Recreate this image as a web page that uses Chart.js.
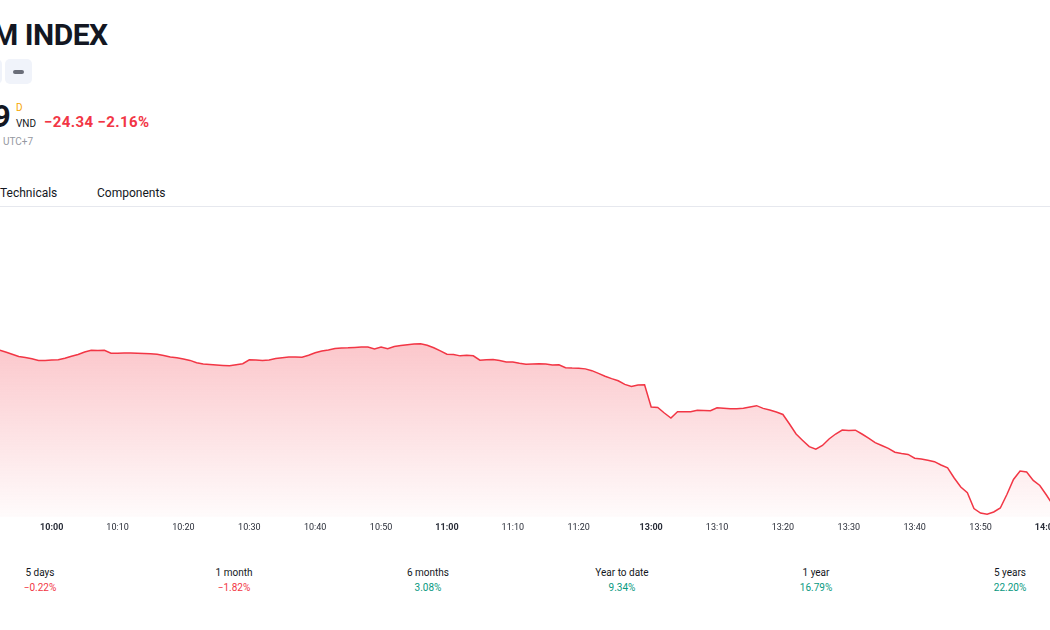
<!DOCTYPE html>
<html>
<head>
<meta charset="utf-8">
<script src="https://cdn.jsdelivr.net/npm/chart.js@4.4.1/dist/chart.umd.min.js"></script>
<style>
    html, body { margin: 0; padding: 0; width: 1050px; height: 630px; overflow: hidden; background: #fff; }
    body { position: relative; font-family: Roboto, "Noto Sans", sans-serif; color: #131722; }
    .abs { position: absolute; white-space: nowrap; }
    .title { left: -8px; top: 17px; font-size: 30px; font-weight: 700; letter-spacing: -0.5px; }
    .btn { top: 59px; width: 27px; height: 25px; border-radius: 5px; background: #f0f3fa; }
    .btn .dash { position: absolute; left: 8px; top: 11px; width: 11px; height: 4px; border-radius: 2px; background: #6a6d78; }
    .price { left: -7px; top: 98px; font-size: 31px; font-weight: 700; }
    .cur-d { left: 16px; top: 102px; font-size: 10px; color: #f7a600; }
    .cur { left: 16px; top: 118px; font-size: 10px; }
    .chg { left: 44px; top: 113px; font-size: 15px; font-weight: 700; color: #f23645; letter-spacing: 0.4px; }
    .tz { left: 3px; top: 136px; font-size: 10px; color: #9598a1; }
    .tab { top: 186px; font-size: 12px; color: #131722; }
    .rule { left: 0; top: 206px; width: 1050px; height: 1px; background: #e6e8ee; }
    #chartBox { position: absolute; left: -1px; top: 210px; width: 1054px; height: 322px; }
    .stat { top: 565px; width: 120px; margin-left: -60px; text-align: center; font-size: 10px; line-height: 15px; }
    .down { color: #f23645; }
    .up { color: #089981; }
</style>
</head>
<body>
<div class="abs title">M INDEX</div>
<div class="abs btn" style="left:-25px"></div>
<div class="abs btn" style="left:5px"><div class="dash"></div></div>
<div class="abs price">9</div>
<div class="abs cur-d">D</div>
<div class="abs cur">VND</div>
<div class="abs chg">−24.34 −2.16%</div>
<div class="abs tz">UTC+7</div>
<div class="abs tab" style="left:0">Technicals</div>
<div class="abs tab" style="left:97px">Components</div>
<div class="abs rule"></div>

<div id="chartBox"><canvas id="intradayChart"></canvas></div>

<div id="stats"></div>

<script>
// ==========================================
// DATA
// ==========================================
const times = [
    '09:52','09:53','09:54','09:55','09:56','09:57','09:58','09:59',
    '10:00','10:01','10:02','10:03','10:04','10:05','10:06','10:07','10:08','10:09',
    '10:10','10:11','10:12','10:13','10:14','10:15','10:16','10:17','10:18','10:19',
    '10:20','10:21','10:22','10:23','10:24','10:25','10:26','10:27','10:28','10:29',
    '10:30','10:31','10:32','10:33','10:34','10:35','10:36','10:37','10:38','10:39',
    '10:40','10:41','10:42','10:43','10:44','10:45','10:46','10:47','10:48','10:49',
    '10:50','10:51','10:52','10:53','10:54','10:55','10:56','10:57','10:58','10:59',
    '11:00','11:01','11:02','11:03','11:04','11:05','11:06','11:07','11:08','11:09',
    '11:10','11:11','11:12','11:13','11:14','11:15','11:16','11:17','11:18','11:19',
    '11:20','11:21','11:22','11:23','11:24','11:25','11:26','11:27','11:28','11:29',
    '11:30',
    '13:00','13:01','13:02','13:03','13:04','13:05','13:06','13:07','13:08','13:09',
    '13:10','13:11','13:12','13:13','13:14','13:15','13:16','13:17','13:18','13:19',
    '13:20','13:21','13:22','13:23','13:24','13:25','13:26','13:27','13:28','13:29',
    '13:30','13:31','13:32','13:33','13:34','13:35','13:36','13:37','13:38','13:39',
    '13:40','13:41','13:42','13:43','13:44','13:45','13:46','13:47','13:48','13:49',
    '13:50','13:51','13:52','13:53','13:54','13:55','13:56','13:57','13:58','13:59',
    '14:00','14:01'
];

const prices = [
    1124.75, 1124.45, 1124.12, 1123.79, 1123.61, 1123.43, 1123.19, 1123.19,
    1123.24, 1123.28, 1123.52, 1123.82, 1124.08, 1124.45, 1124.72, 1124.66, 1124.71, 1124.26,
    1124.27, 1124.29, 1124.30, 1124.26, 1124.21, 1124.17, 1124.12, 1123.94, 1123.69, 1123.57,
    1123.39, 1123.19, 1122.85, 1122.64, 1122.58, 1122.50, 1122.44, 1122.40, 1122.55, 1122.70,
    1123.28, 1123.24, 1123.18, 1123.24, 1123.48, 1123.58, 1123.69, 1123.69, 1123.66, 1123.96,
    1124.33, 1124.59, 1124.75, 1124.98, 1125.04, 1125.07, 1125.13, 1125.19, 1125.20, 1124.90,
    1125.20, 1124.95, 1125.28, 1125.41, 1125.52, 1125.64, 1125.67, 1125.46, 1125.08, 1124.62,
    1124.11, 1124.06, 1123.87, 1123.96, 1123.88, 1123.22, 1123.28, 1123.34, 1123.16, 1122.95,
    1122.95, 1122.76, 1122.61, 1122.64, 1122.68, 1122.64, 1122.50, 1122.53, 1122.10, 1122.04,
    1122.02, 1121.92, 1121.65, 1121.24, 1120.82, 1120.46, 1120.13, 1119.59, 1119.28, 1119.50,
    1119.55,
    1116.20, 1116.13, 1115.30, 1114.55, 1115.50, 1115.47, 1115.50, 1115.71, 1115.68, 1115.65,
    1116.08, 1116.01, 1115.95, 1115.92, 1116.02, 1116.20, 1116.40, 1115.99, 1115.75, 1115.44,
    1115.08, 1113.65, 1112.15, 1111.18, 1110.25, 1109.87, 1110.43, 1111.40, 1112.15, 1112.75,
    1112.68, 1112.72, 1112.15, 1111.52, 1110.86, 1110.43, 1109.99, 1109.42, 1109.23, 1109.08,
    1108.51, 1108.40, 1108.22, 1108.00, 1107.50, 1107.07, 1105.55, 1104.20, 1103.33, 1100.96,
    1100.30, 1100.11, 1100.45, 1101.05, 1103.08, 1105.33, 1106.60, 1106.45, 1105.18, 1104.43,
    1103.00, 1101.50
];

const perfLabels = ['5 days', '1 month', '6 months', 'Year to date', '1 year', '5 years'];
const perfValues = ['−0.22%', '−1.82%', '3.08%', '9.34%', '16.79%', '22.20%'];
const perfUp = [false, false, true, true, true, true];

// ==========================================
// PERFORMANCE ROW
// ==========================================
const stats = document.getElementById('stats');
perfLabels.forEach((lbl, i) => {
    const d = document.createElement('div');
    d.className = 'abs stat';
    d.style.left = (40 + i * 194) + 'px';
    d.innerHTML = lbl + '<br><span class="' + (perfUp[i] ? 'up' : 'down') + '">' + perfValues[i] + '</span>';
    stats.appendChild(d);
});

// ==========================================
// CHART
// ==========================================
const lineColor = '#f23645';
const canvas = document.getElementById('intradayChart');
const ctx = canvas.getContext('2d');

function areaFill(context) {
    const chart = context.chart;
    const area = chart.chartArea;
    if (!area) return 'rgba(242, 54, 69, 0.2)';
    const top = chart.scales.y.getPixelForValue(Math.max(...prices));
    const g = chart.ctx.createLinearGradient(0, top, 0, area.bottom);
    g.addColorStop(0, 'rgba(242, 54, 69, 0.28)');
    g.addColorStop(1, 'rgba(242, 54, 69, 0.02)');
    return g;
}

new Chart(ctx, {
    type: 'line',
    data: {
        labels: times,
        datasets: [{
            data: prices,
            borderColor: lineColor,
            borderWidth: 1.5,
            backgroundColor: areaFill,
            fill: 'start',
            pointRadius: 0,
            tension: 0
        }]
    },
    options: {
        responsive: true,
        maintainAspectRatio: false,
        animation: false,
        layout: { padding: 0 },
        plugins: {
            legend: { display: false },
            tooltip: { enabled: false }
        },
        scales: {
            x: {
                offset: false,
                grid: { display: false, drawTicks: false },
                border: { display: false },
                // keep the plot edge-to-edge, labels may run off the canvas
                afterFit: (scale) => {
                    scale.height = 15;
                    scale.paddingLeft = 0;
                    scale.paddingRight = 0;
                },
                ticks: {
                    autoSkip: false,
                    maxRotation: 0,
                    padding: 5,
                    color: '#2a2e39',
                    font: (c) => ({
                        family: 'Roboto, sans-serif',
                        size: 9,
                        weight: (times[c.index] || '').endsWith(':00') ? 'bold' : 'normal'
                    }),
                    callback: function(value, index) {
                        const t = times[index];
                        if (t === '11:30' || t[4] !== '0') return '';
                        return t.replace(/^0/, '');
                    }
                }
            },
            y: {
                display: false,
                min: 1099.7,
                max: 1145.75
            }
        }
    }
});
</script>
</body>
</html>
